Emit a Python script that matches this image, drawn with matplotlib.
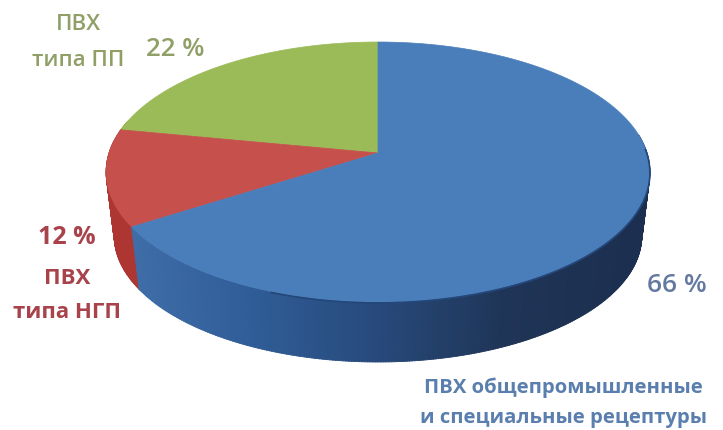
import numpy as np
import matplotlib
matplotlib.use('Agg')
import matplotlib.pyplot as plt
from matplotlib.colors import LinearSegmentedColormap

# share of each PVC type, drawn counterclockwise from the top
names = ['green', 'red', 'blue']
shares = [22, 12, 66]
top_colors = ['#9bbb59', '#c5504c', '#4a7ebb']
wall_colors = ['#7f9a48', '#ad3532', None]

plt.rcParams['font.family'] = ['Open Sans', 'DejaVu Sans']

blue_wall = LinearSegmentedColormap.from_list(
    'blue_wall', ['#3f6da8', '#2f5c96', '#27497a', '#1f3557', '#1c2f50'])


def project(t, cy, scale):
    # perspective view of a unit disc, the far edge looks smaller
    k = 0.146
    x, y = np.cos(t), np.sin(t)
    w = 1 + k*y
    return 378 + scale*269*x/w, cy - scale*127.2*y/w


def wall_color(i, px):
    if wall_colors[i] is not None:
        return wall_colors[i]
    return blue_wall(np.clip((px-130)/500.0, 0, 1))


fig = plt.figure(figsize=(7.23, 4.30), dpi=100)
ax = fig.add_axes([0, 0, 1, 1])
ax.set_xlim(0, 723)
ax.set_ylim(430, 0)
ax.axis('off')

edges = 90 + np.cumsum([0] + shares)*3.6

################## side wall #################
for i in range(len(shares)):
    a = np.arange(edges[i], edges[i+1], 0.5)
    for d in a:
        if 8 < d % 360 < 165:
            continue
        t = np.radians([d, d+0.6])
        x1, y1 = project(t, 153, 1.0)
        x2, y2 = project(t, 217.5, 0.97)
        ax.fill([x1[0], x1[1], x2[1], x2[0]], [y1[0], y1[1], y2[1], y2[0]],
                color=wall_color(i, x1[0]), lw=0.6, zorder=1)

################## top face #################
for i in range(len(shares)):
    t = np.radians(np.linspace(edges[i], edges[i+1], 200))
    x, y = project(t, 153, 1.0)
    ax.fill(np.r_[378, x], np.r_[153, y], color=top_colors[i], lw=0.5, zorder=2)

# dark seam under the front rim of the blue slice
t = np.radians(np.linspace(250, 362, 200))
x, y = project(t, 153, 1.0)
ax.plot(x, y+1, color='#24477a', lw=1.2, zorder=3)

################## labels #################
green_txt = '#8f9f66'
red_txt = '#a8434c'
blue_txt = '#5a7fae'
ax.text(78, 25, 'ПВХ', color=green_txt, fontsize=16, ha='center', va='center', weight='semibold')
ax.text(78, 60, 'типа ПП', color=green_txt, fontsize=16, ha='center', va='center', weight='semibold')
ax.text(175, 50, '22 %', color=green_txt, fontsize=18.5, ha='center', va='center', weight='semibold')
ax.text(67, 238, '12 %', color=red_txt, fontsize=18, ha='center', va='center', weight='bold')
ax.text(67, 279, 'ПВХ', color=red_txt, fontsize=16, ha='center', va='center', weight='bold')
ax.text(67, 312, 'типа НГП', color=red_txt, fontsize=16, ha='center', va='center', weight='bold')
ax.text(677, 285, '66 %', color='#64799f', fontsize=19, ha='center', va='center', weight='semibold')
ax.text(563, 388, 'ПВХ общепромышленные', color=blue_txt, fontsize=14.6, ha='center', va='center', weight='bold')
ax.text(563, 418, 'и специальные рецептуры', color=blue_txt, fontsize=14.6, ha='center', va='center', weight='bold')

fig.savefig('out.png', dpi=100)
